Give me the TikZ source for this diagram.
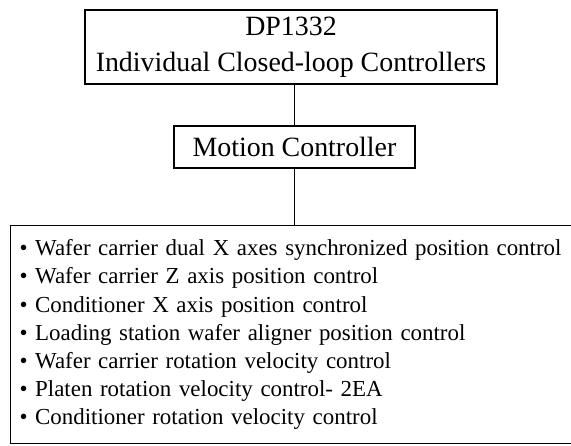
\documentclass[tikz,border=0pt]{standalone}
\usepackage{fontspec}
\setmainfont{Liberation Serif}
\begin{document}
\begin{tikzpicture}[x=1bp,y=1bp,
  box/.style={draw, line width=1.1bp, inner sep=0pt, align=center},
  link/.style={draw, line width=1.1bp},
  titlefont/.style={font=\fontsize{28}{36}\selectfont},
  listfont/.style={font=\fontsize{23}{28.2}\selectfont}]
  \useasboundingbox (0,0) rectangle (571,-446);
  \clip (0,0) rectangle (571,-446);

  % controller hierarchy
  \node[box, titlefont, minimum width=412bp, minimum height=74bp]
    (top) at (291,-47) {DP1332\\Individual Closed-loop Controllers};
  \node[box, titlefont, minimum width=241bp, minimum height=42bp]
    (mid) at (294.5,-147) {Motion Controller};
  \node[box, listfont, align=left, anchor=north west, text width=560bp,
        inner xsep=9bp, inner ysep=0pt, minimum height=218bp]
    (list) at (10,-225) {%
      • Wafer carrier dual X axes synchronized position control\\
      • Wafer carrier Z axis position control\\
      • Conditioner X axis position control\\
      • Loading station wafer aligner position control\\
      • Wafer carrier rotation velocity control\\
      • Platen rotation velocity control- 2EA\\
      • Conditioner rotation velocity control};

  \draw[link] (top.south -| mid.north) -- (mid.north);
  \draw[link] (mid.south) -- (mid.south |- list.north);
\end{tikzpicture}
\end{document}
